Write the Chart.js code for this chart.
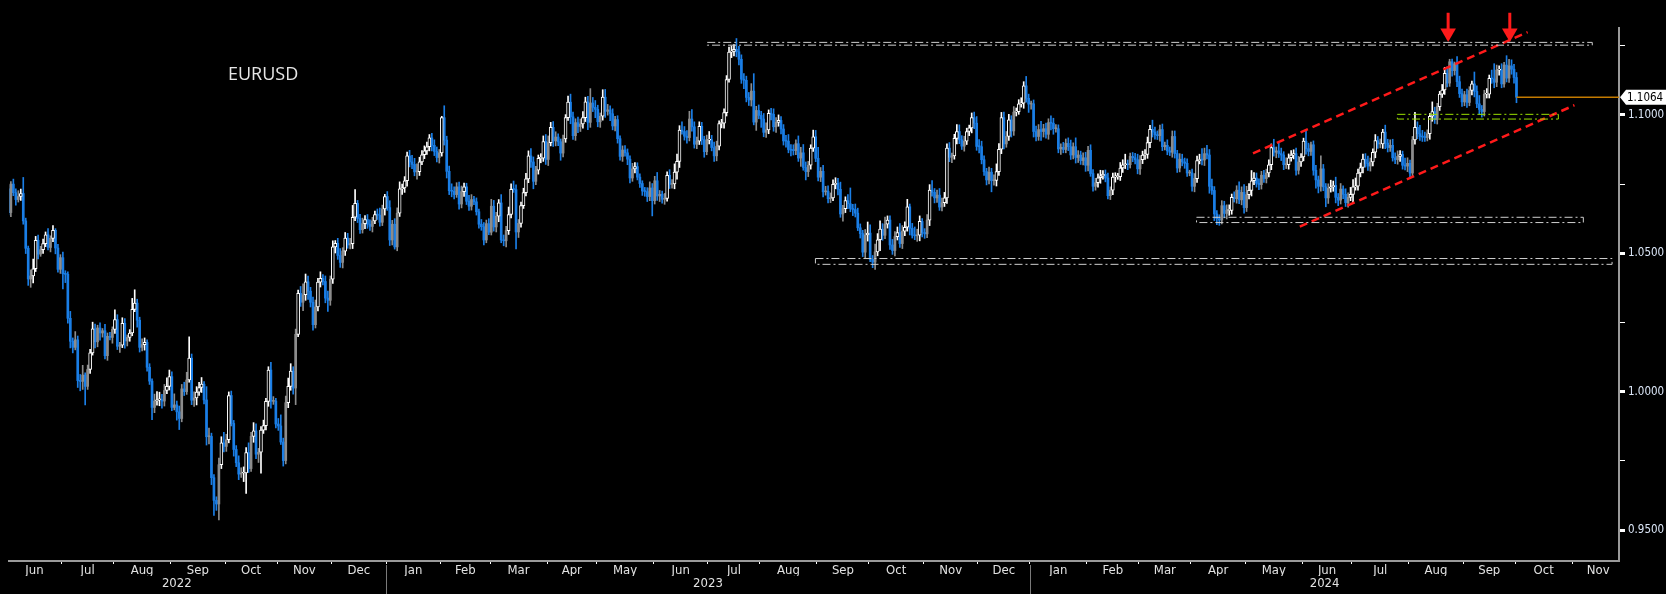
<!DOCTYPE html>
<html>
<head>
<meta charset="utf-8">
<title>EURUSD</title>
<script src="https://cdn.jsdelivr.net/npm/chart.js@4.4.1/dist/chart.umd.min.js"></script>
<style>
  html, body { margin: 0; padding: 0; background: #000; }
  #wrap { width: 1666px; height: 594px; position: relative; }
</style>
</head>
<body>
<div id="wrap"><canvas id="fx"></canvas></div>
<script>
// EURUSD daily closes, one line per month, first bar is Wed 1 Jun 2022 (weekdays only)
const seriesName = "EURUSD";
const firstOpen = 1.0733;
const closes = [
  1.0647,1.0750,1.0719,1.0694,1.0705,1.0716,1.0617,1.0518,1.0407,1.0418,1.0444,1.0547,1.0497,1.0513,1.0535,1.0567,1.0521,1.0554,1.0583,1.0519,1.0442,1.0484,
  1.0426,1.0424,1.0265,1.0182,1.0160,1.0187,1.0040,1.0037,1.0060,1.0019,1.0080,1.0140,1.0227,1.0180,1.0230,1.0212,1.0220,1.0130,1.0200,1.0196,1.0225,
  1.0260,1.0164,1.0168,1.0247,1.0183,1.0196,1.0212,1.0297,1.0320,1.0258,1.0160,1.0170,1.0178,1.0088,1.0038,0.9943,0.9966,0.9970,0.9971,0.9966,1.0004,1.0019,1.0054,
  0.9943,0.9952,0.9927,0.9903,1.0010,1.0000,1.0042,1.0121,0.9969,0.9977,0.9998,1.0015,1.0027,0.9970,0.9837,0.9838,0.9689,0.9607,0.9594,0.9736,0.9815,0.9802,
  0.9826,0.9986,0.9885,0.9791,0.9743,0.9702,0.9706,0.9706,0.9780,0.9722,0.9838,0.9858,0.9774,0.9781,0.9861,0.9877,0.9965,1.0078,0.9965,0.9966,0.9883,
  0.9876,0.9818,0.9751,0.9960,1.0019,1.0074,1.0013,1.0207,1.0355,1.0323,1.0350,1.0397,1.0363,1.0323,1.0242,1.0306,1.0396,1.0409,1.0398,1.0338,1.0330,1.0406,
  1.0523,1.0536,1.0492,1.0467,1.0508,1.0555,1.0530,1.0535,1.0630,1.0680,1.0626,1.0585,1.0607,1.0622,1.0605,1.0597,1.0617,1.0640,1.0638,1.0612,1.0660,1.0705,
  1.0665,1.0548,1.0605,1.0523,1.0645,1.0733,1.0736,1.0762,1.0852,1.0830,1.0821,1.0794,1.0795,1.0830,1.0856,1.0870,1.0885,1.0917,1.0890,1.0868,1.0846,1.0863,
  1.0990,1.0909,1.0796,1.0726,1.0724,1.0712,1.0740,1.0678,1.0723,1.0740,1.0688,1.0670,1.0694,1.0686,1.0650,1.0605,1.0596,1.0548,1.0607,1.0576,
  1.0670,1.0595,1.0634,1.0682,1.0548,1.0545,1.0582,1.0640,1.0731,1.0730,1.0577,1.0608,1.0672,1.0719,1.0769,1.0852,1.0830,1.0760,1.0800,1.0843,1.0844,1.0904,1.0839,
  1.0900,1.0955,1.0906,1.0920,1.0903,1.0862,1.0913,1.0990,1.1046,1.0993,1.0925,1.0972,1.0958,1.0967,1.0990,1.1047,1.0973,1.1043,1.1027,1.1020,
  1.0975,1.0995,1.1064,1.1013,1.1018,1.1004,1.0960,1.0983,1.0914,1.0850,1.0873,1.0863,1.0840,1.0772,1.0805,1.0813,1.0775,1.0752,1.0725,1.0723,1.0705,1.0736,1.0690,
  1.0762,1.0707,1.0713,1.0695,1.0698,1.0782,1.0749,1.0751,1.0793,1.0832,1.0945,1.0940,1.0923,1.0918,1.0985,1.0957,1.0894,1.0905,1.0959,1.0911,1.0867,1.0909,
  1.0910,1.0882,1.0852,1.0887,1.0969,1.0970,1.1008,1.1128,1.1227,1.1229,1.1237,1.1228,1.1201,1.1129,1.1125,1.1063,1.1054,1.1086,1.0974,1.1016,1.0998,
  1.0985,1.0937,1.0946,1.1006,1.1002,1.0957,1.0973,1.0980,1.0949,1.0906,1.0905,1.0875,1.0872,1.0871,1.0896,1.0844,1.0863,1.0810,1.0795,1.0818,1.0880,1.0921,1.0843,
  1.0775,1.0796,1.0722,1.0724,1.0697,1.0700,1.0749,1.0753,1.0731,1.0642,1.0661,1.0690,1.0679,1.0662,1.0658,1.0645,1.0592,1.0571,1.0504,1.0566,1.0573,
  1.0478,1.0468,1.0505,1.0549,1.0587,1.0565,1.0605,1.0620,1.0530,1.0510,1.0560,1.0575,1.0535,1.0580,1.0594,1.0668,1.0590,1.0565,1.0563,1.0565,1.0615,1.0575,
  1.0570,1.0620,1.0728,1.0720,1.0700,1.0710,1.0667,1.0683,1.0700,1.0880,1.0847,1.0852,1.0915,1.0940,1.0910,1.0887,1.0905,1.0940,1.0953,1.0990,1.0970,1.0886,
  1.0885,1.0838,1.0795,1.0765,1.0793,1.0762,1.0763,1.0795,1.0876,1.0990,1.0895,1.0922,1.0982,1.0942,1.1010,1.1012,1.1040,1.1042,1.1105,1.1060,1.1039,
  1.1040,1.0940,1.0922,1.0947,1.0940,1.0950,1.0930,1.0972,1.0970,1.0950,1.0950,1.0877,1.0883,1.0875,1.0897,1.0885,1.0855,1.0885,1.0846,1.0855,1.0835,1.0845,1.0818,
  1.0872,1.0788,1.0742,1.0755,1.0773,1.0780,1.0785,1.0772,1.0708,1.0728,1.0775,1.0777,1.0777,1.0808,1.0820,1.0823,1.0820,1.0850,1.0845,1.0838,1.0805,
  1.0838,1.0855,1.0857,1.0900,1.0948,1.0938,1.0928,1.0925,1.0947,1.0885,1.0890,1.0870,1.0865,1.0922,1.0860,1.0808,1.0840,1.0830,1.0825,1.0790,1.0790,
  1.0742,1.0770,1.0835,1.0838,1.0837,1.0860,1.0855,1.0742,1.0727,1.0642,1.0625,1.0620,1.0672,1.0644,1.0655,1.0655,1.0702,1.0697,1.0728,1.0693,1.0720,1.0665,
  1.0712,1.0727,1.0762,1.0772,1.0753,1.0748,1.0782,1.0770,1.0790,1.0820,1.0882,1.0865,1.0870,1.0860,1.0855,1.0820,1.0820,1.0845,1.0855,1.0860,1.0800,1.0830,1.0848,
  1.0905,1.0878,1.0868,1.0892,1.0800,1.0765,1.0742,1.0805,1.0740,1.0700,1.0735,1.0740,1.0745,1.0702,1.0692,1.0732,1.0713,1.0683,1.0702,1.0713,
  1.0740,1.0742,1.0790,1.0810,1.0840,1.0825,1.0815,1.0830,1.0865,1.0907,1.0895,1.0895,1.0938,1.0898,1.0882,1.0890,1.0845,1.0838,1.0850,1.0857,1.0818,1.0815,1.0825,
  1.0790,1.0910,1.0955,1.0932,1.0922,1.0920,1.0918,1.0932,1.0995,1.1012,1.0983,1.1030,1.1075,1.1090,1.1150,1.1115,1.1192,1.1160,1.1185,1.1120,1.1077,1.1047,
  1.1073,1.1045,1.1088,1.1112,1.1085,1.1040,1.1020,1.1012,1.1075,1.1075,1.1132,1.1130,1.1118,1.1162,1.1163,1.1112,1.1180,1.1133,1.1177,1.1165,1.1135,
  1.1064
];
// shadow above / below the candle body, in pips
const wickUp = [
  12,9,18,14,21,16,58,10,8,22,35,14,19,12,16,10,22,9,17,6,13,11,
  20,11,9,25,12,30,14,22,35,8,16,13,24,17,10,19,8,23,12,14,9,
  36,18,10,20,17,9,12,40,48,14,11,21,16,9,13,8,25,30,27,19,22,31,24,
  18,40,14,21,16,24,28,77,15,22,20,19,24,9,48,30,12,11,13,24,22,38,
  20,13,16,11,14,25,19,22,18,35,15,30,26,14,13,20,11,12,28,16,10,
  20,40,14,24,30,27,16,19,12,25,40,28,21,14,19,25,13,24,14,20,25,12,
  22,10,18,25,12,20,17,19,43,50,11,15,20,14,18,16,13,12,20,25,14,8,
  18,25,14,20,19,25,14,15,14,20,24,22,28,17,15,18,17,12,16,20,16,12,
  5,43,14,19,25,16,15,17,20,14,13,21,18,12,14,10,17,15,13,18,
  25,21,14,12,30,18,15,27,20,30,17,14,13,16,20,18,26,18,14,12,16,20,25,
  24,18,21,19,12,10,14,11,22,29,17,14,20,18,22,17,20,52,20,25,
  15,12,27,28,20,15,18,12,14,10,15,16,14,12,20,15,14,12,10,13,14,22,16,
  16,30,14,12,18,12,20,15,30,26,16,30,18,20,28,34,18,15,16,14,12,18,
  30,16,20,18,10,14,14,14,18,20,17,39,20,16,20,15,18,27,63,15,20,
  15,20,25,12,18,20,17,20,14,16,20,24,18,20,14,28,20,30,20,14,12,24,23,
  40,14,22,18,20,18,16,20,18,26,12,14,22,57,15,20,18,14,12,20,40,
  30,14,28,22,30,20,26,15,15,20,18,20,32,20,20,27,10,18,30,22,20,10,
  14,20,20,35,14,18,24,16,20,15,20,10,15,25,24,15,18,12,10,17,20,24,
  25,20,14,12,18,14,20,28,20,19,20,18,20,15,20,13,15,20,15,34,15,
  10,14,20,18,30,16,20,14,25,18,15,14,12,18,16,20,24,14,32,16,14,18,20,
  14,20,14,16,14,20,14,16,18,12,15,14,12,20,18,35,14,12,14,16,20,
  15,14,18,20,14,33,18,14,16,20,12,20,14,20,20,12,20,18,14,16,10,
  14,18,16,20,40,20,30,20,26,14,12,14,18,16,20,20,12,20,16,30,20,28,
  30,25,37,20,18,16,14,18,14,18,13,30,14,28,20,12,25,14,16,14,20,20,12,
  11,38,20,10,14,18,14,47,16,12,16,24,16,30,14,20,12,20,16,25,
  26,30,14,16,18,20,26,14,12,22,15,18,10,25,14,20,22,18,20,14,12,26,20,
  12,12,54,20,30,22,18,14,10,35,16,12,10,20,22,24,9,10,6,26,20,16,
  12,20,14,10,43,20,30,14,14,20,12,30,55,18,14,22,10,34,24,22,18,
  18
];
const wickDn = [
  8,15,11,20,9,14,12,19,23,30,25,10,17,8,14,11,9,16,12,21,10,15,
  55,30,18,24,20,9,25,34,29,67,11,14,8,22,18,26,15,12,17,9,21,
  15,12,22,9,26,18,14,10,8,25,17,13,20,14,12,44,19,15,21,26,18,11,13,
  12,9,30,40,12,14,10,8,16,22,25,12,18,14,30,26,25,54,23,58,14,20,
  18,11,9,24,14,20,12,31,74,14,10,21,16,30,76,12,15,18,25,11,14,
  16,9,20,12,18,14,22,60,8,15,30,20,30,17,20,12,14,18,12,17,40,18,
  15,22,14,18,20,16,12,14,18,12,15,13,12,18,15,14,20,10,16,14,12,22,
  10,20,18,8,14,12,20,16,20,18,15,14,26,14,10,14,13,15,20,15,16,20,
  12,18,24,14,20,16,10,19,14,18,12,15,14,10,12,14,13,18,10,9,
  10,15,18,20,10,18,22,14,12,10,61,20,14,10,12,14,20,27,12,14,16,12,18,
  22,12,20,18,14,26,14,12,10,25,14,17,22,18,15,14,26,18,15,30,
  18,20,14,22,14,25,14,18,16,14,18,12,20,18,12,15,10,14,16,17,18,15,55,
  12,16,20,14,18,10,15,14,18,25,22,10,14,20,12,16,14,16,12,18,20,11,
  14,12,20,18,14,16,18,12,10,20,16,18,20,15,30,16,20,22,10,30,12,
  30,16,18,14,20,16,20,14,18,15,22,12,20,16,15,12,30,10,30,18,14,12,12,
  14,16,18,12,15,14,10,16,20,12,26,14,18,12,22,14,10,16,16,20,22,
  8,20,26,14,40,18,12,14,16,14,20,12,14,18,16,14,24,10,14,20,20,16,
  16,14,20,14,18,16,12,14,14,20,16,20,12,20,14,12,18,12,15,18,20,14,
  22,15,14,18,14,40,16,20,14,16,18,12,14,22,16,14,10,12,18,14,30,
  18,20,16,14,32,20,14,18,24,20,12,14,20,12,12,14,16,14,20,18,14,16,22,
  20,10,18,14,16,20,12,14,12,14,16,18,10,14,16,14,18,12,14,15,18,
  20,14,16,14,18,18,16,14,20,14,12,14,12,18,16,16,14,14,18,12,10,
  18,20,14,12,18,20,14,25,14,24,22,19,14,16,20,18,14,12,16,14,18,20,
  14,16,20,14,14,18,16,14,16,14,18,14,20,14,20,18,14,16,12,14,18,14,16,
  14,20,16,14,18,30,24,18,14,32,20,14,16,20,20,14,16,14,16,12,
  32,12,14,14,20,14,16,18,14,20,16,14,16,20,16,14,12,14,16,18,14,14,20,
  13,12,16,18,14,16,14,12,20,18,14,16,14,12,16,14,12,20,16,18,14,16,
  14,18,12,16,20,14,18,20,16,14,14,16,20,16,18,14,12,14,16,18,20,
  20
];

const monthNames = ["Jan","Feb","Mar","Apr","May","Jun","Jul","Aug","Sep","Oct","Nov","Dec"];
const yearLabels = ["2022","2023","2024"];
const yearTickDays = [68, 282.5, 531.5];
const yTicks = [0.95, 0.975, 1.0, 1.025, 1.05, 1.075, 1.1, 1.125];

// drawn levels: [fromDay, toDay, upper, lower]
const levelBoxes = [[282.2, 639.6, 1.1262, 1.1252], [325.9, 647.6, 1.0481, 1.0460], [479.8, 636.0, 1.0630, 1.0611]];
const supportBox = [560.9, 625.9, 1.1002, 1.0985];
// rising channel, [day, level]
const channelTop = [[502.6, 1.0861], [613.5, 1.1299]];
const channelBottom = [[521.5, 1.0596], [632.4, 1.1035]];
const arrowDays = [581.4, 606.3];
const arrowFrom = 1.1369, arrowTo = 1.1296;

const xMin = 0.24, xMax = 650.4;
const yMin = 0.9388, yMax = 1.1314;

// weekday calendar for the x axis
const days = [];
for (let t = Date.UTC(2022, 5, 1); t <= Date.UTC(2024, 11, 31); t += 864e5) {
  const dt = new Date(t), wd = dt.getUTCDay();
  if (wd !== 0 && wd !== 6) days.push(dt);
}
const monthStarts = [];
days.forEach((dt, i) => {
  if (i === 0 || dt.getUTCMonth() !== days[i - 1].getUTCMonth()) {
    monthStarts.push({ d: i, m: dt.getUTCMonth() });
  }
});
const inRange = v => v >= xMin && v <= xMax;
const monthTicks = monthStarts.map(s => s.d - 0.5).filter(inRange);
const monthLabelTicks = [];
for (let k = 0; k < monthStarts.length - 1; k++) {
  const c = (monthStarts[k].d + monthStarts[k + 1].d) / 2 - 0.5;
  if (inRange(c)) monthLabelTicks.push({ value: c, name: monthNames[monthStarts[k].m] });
}
const yearStarts = monthStarts.filter(s => s.m === 0).map(s => s.d - 0.5);

const opens = closes.map((c, i) => i ? closes[i - 1] : firstOpen);
const kind = [];
closes.forEach((c, i) => {
  if (c < opens[i]) kind.push("dn");
  else kind.push(i && kind[i - 1] === "dn" ? "gr" : "up");
});
const colors = { up: "#ffffff", gr: "#8c8c8c", dn: "#1a7ee6" };
const pip = 0.0001;
const lastIdx = closes.length - 1;
const lastClose = closes[lastIdx];

const wickData = closes.map((c, i) => ({
  x: i,
  y: [Math.min(c, opens[i]) - (wickDn[i] || 0) * pip, Math.max(c, opens[i]) + (wickUp[i] || 0) * pip]
}));
const bodyData = k => closes.map((c, i) => kind[i] === k ? { x: i, y: [opens[i], c] } : null).filter(Boolean);

const seg = (pts, color, width, dash, extra) => Object.assign({
  type: "line", data: pts, borderColor: color, borderWidth: width, borderDash: dash,
  pointRadius: 0, fill: false, order: 0
}, extra || {});
const rect = (b, color) => seg([
  { x: b[0], y: b[2] }, { x: b[1], y: b[2] }, { x: b[1], y: b[3] }, { x: b[0], y: b[3] }, { x: b[0], y: b[2] }
], color, 1, [8, 3, 2, 3]);
const pair = p => p.map(q => ({ x: q[0], y: q[1] }));

const datasets = [
  { data: wickData, backgroundColor: ctx => colors[kind[ctx.dataIndex]], barThickness: 1, grouped: false, order: 2 },
  { data: bodyData("up"), backgroundColor: "#000000", borderColor: "#ffffff", borderWidth: 1, borderSkipped: false,
    barThickness: 3, grouped: false, minBarLength: 1, order: 1 },
  { data: bodyData("gr"), backgroundColor: colors.gr, barThickness: 2, grouped: false, minBarLength: 1, order: 1 },
  { data: bodyData("dn"), backgroundColor: colors.dn, barThickness: 2, grouped: false, minBarLength: 1, order: 1 },
  ...levelBoxes.map(b => rect(b, "#cfcfcf")),
  rect(supportBox, "#9be000"),
  seg(pair(channelTop), "#ff1a1a", 2.5, [8, 5]),
  seg(pair(channelBottom), "#ff1a1a", 2.5, [8, 5]),
  seg([{ x: lastIdx, y: lastClose }, { x: xMax, y: lastClose }], "#c47a00", 1.5, []),
  ...arrowDays.map(d => seg([{ x: d, y: arrowFrom }, { x: d, y: arrowTo }], "#ff1a1a", 3, [], {
    clip: false, pointRadius: [0, 9], pointStyle: "triangle", pointRotation: 180,
    pointBackgroundColor: "#ff1a1a", pointBorderColor: "#ff1a1a", pointBorderWidth: 0
  }))
];

const narrow = '"DejaVu Sans Condensed", "Liberation Sans Narrow", sans-serif';
const isMajor = v => Math.round(v * 1000) % 50 === 0;

const decor = {
  id: "decor",
  beforeDraw(c) {
    const { ctx } = c;
    ctx.save();
    ctx.fillStyle = "#000";
    ctx.fillRect(0, 0, c.width, c.height);
    ctx.restore();
  },
  afterDraw(c) {
    const { ctx, chartArea } = c;
    const x = c.scales.x, y = c.scales.y;
    ctx.save();
    ctx.strokeStyle = "#7a7a7a";
    ctx.lineWidth = 1;
    yearStarts.filter(inRange).forEach(d => {
      const px = Math.round(x.getPixelForValue(d)) + 0.5;
      ctx.beginPath();
      ctx.moveTo(px, chartArea.bottom + 4);
      ctx.lineTo(px, c.height);
      ctx.stroke();
    });
    ctx.fillStyle = "#e6e6e6";
    ctx.font = '18px "Open Sans"';
    ctx.textBaseline = "middle";
    ctx.fillText(seriesName, 228, 75);
    // last price tag
    const py = y.getPixelForValue(lastClose);
    const x0 = chartArea.right + 1;
    ctx.fillStyle = "#ffffff";
    ctx.beginPath();
    ctx.moveTo(x0, py);
    ctx.lineTo(x0 + 6, py - 7.5);
    ctx.lineTo(c.width, py - 7.5);
    ctx.lineTo(c.width, py + 7.5);
    ctx.lineTo(x0 + 6, py + 7.5);
    ctx.closePath();
    ctx.fill();
    ctx.fillStyle = "#000000";
    ctx.font = "11.5px " + narrow;
    ctx.fillText(lastClose.toFixed(4), x0 + 7, py + 0.5);
    ctx.restore();
  }
};

new Chart(document.getElementById("fx"), {
  type: "bar",
  data: { datasets },
  options: {
    responsive: true,
    maintainAspectRatio: false,
    animation: false,
    events: [],
    layout: { padding: { top: 28, left: 0, right: 0, bottom: 0 } },
    plugins: { legend: { display: false }, tooltip: { enabled: false } },
    scales: {
      x: {
        type: "linear", position: "bottom", min: xMin, max: xMax, offset: false, weight: 0,
        afterBuildTicks: s => { s.ticks = monthTicks.map(v => ({ value: v })); },
        afterFit: s => { s.height = 2; },
        ticks: { display: false },
        grid: { offset: false, drawOnChartArea: false, tickLength: 3, tickColor: "#ffffff", tickWidth: 1 },
        border: { color: "#9a9a9a", width: 2 }
      },
      xm: {
        type: "linear", position: "bottom", min: xMin, max: xMax, offset: false, weight: 1,
        afterBuildTicks: s => { s.ticks = monthLabelTicks.map(t => ({ value: t.value, name: t.name })); },
        afterFit: s => { s.height = 13; },
        ticks: {
          callback: (v, i, t) => t[i].name, autoSkip: false, maxRotation: 0, minRotation: 0, padding: 0,
          color: "#e2e2e2", font: { family: narrow, size: 13 }
        },
        grid: { display: false, drawTicks: false, tickLength: 0 },
        border: { display: false }
      },
      xy: {
        type: "linear", position: "bottom", min: xMin, max: xMax, offset: false, weight: 2,
        afterBuildTicks: s => { s.ticks = yearTickDays.map((v, i) => ({ value: v, name: yearLabels[i] })); },
        afterFit: s => { s.height = 18; },
        ticks: {
          callback: (v, i, t) => t[i].name, autoSkip: false, maxRotation: 0, minRotation: 0, padding: 0,
          color: "#e2e2e2", font: { family: narrow, size: 13 }
        },
        grid: { display: false, drawTicks: false, tickLength: 0 },
        border: { display: false }
      },
      y: {
        position: "right", min: yMin, max: yMax,
        afterBuildTicks: s => { s.ticks = yTicks.map(v => ({ value: v })); },
        afterFit: s => { s.width = 47; },
        ticks: {
          callback: v => isMajor(v) ? v.toFixed(4) : "",
          color: "#dbe6f7", padding: 3, font: { family: narrow, size: 11.5 }
        },
        grid: {
          drawOnChartArea: false, tickLength: 6, tickColor: "#ffffff",
          tickWidth: ctx => (ctx.tick && isMajor(ctx.tick.value)) ? 3 : 1
        },
        border: { color: "#9a9a9a", width: 2 }
      }
    }
  },
  plugins: [decor]
});
</script>
</body>
</html>
